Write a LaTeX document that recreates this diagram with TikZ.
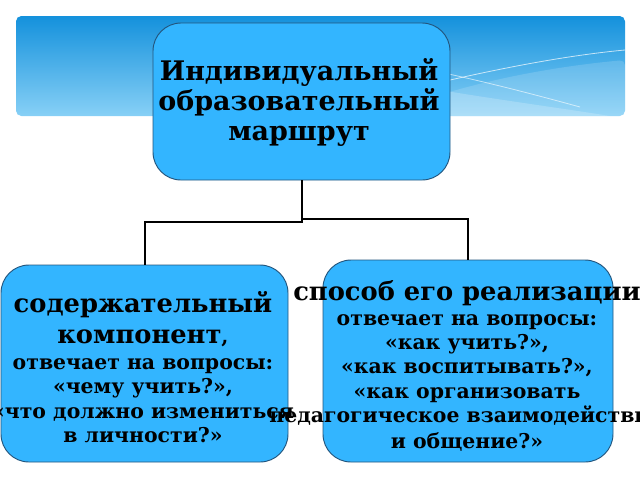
\documentclass[tikz,border=0pt]{standalone}
\usepackage{fontspec}
\setmainfont{DejaVu Serif}
\usetikzlibrary{positioning}
\definecolor{boxblue}{RGB}{51,181,255}
\definecolor{boxline}{RGB}{35,85,125}
\definecolor{bantop}{RGB}{20,145,220}
\definecolor{banbot}{RGB}{135,208,246}
\tikzset{
  blk/.style={draw=boxline, fill=boxblue, rounded corners=21pt, line width=0.7pt},
  txt/.style={align=center, inner sep=0pt, font=\bfseries\fontsize{15.3}{18.2}\selectfont},
  link/.style={line width=1.5pt}
}
\newcommand{\headsz}{\fontsize{19.3}{18.2}\selectfont}

\begin{document}
\begin{tikzpicture}[x=0.75pt,y=-0.75pt]
\useasboundingbox (0,0) rectangle (640,480);
%banner
\shade[top color=bantop, bottom color=banbot, rounded corners=4pt] (16,16) rectangle (625,116);
\fill[white, opacity=0.15, rounded corners=4pt] (380,116) .. controls (470,80) and (560,66) .. (625,60) -- (625,116) -- cycle;
\fill[white, opacity=0.2] (440,90) .. controls (500,100) and (560,108) .. (610,116) -- (440,116) -- cycle;
\draw[white, opacity=0.7, line width=0.6pt] (400,92) .. controls (480,72) and (560,56) .. (625,50);
\draw[white, opacity=0.6, line width=0.6pt] (420,68) .. controls (480,80) and (540,96) .. (580,107);

\node[blk, minimum width=222.75pt, minimum height=117.75pt] (route) at (301.5,101.5) {};
\node[blk, minimum width=215.25pt, minimum height=147.75pt] (content) at (144.5,363.5) {};
\node[blk, minimum width=217.5pt, minimum height=151.5pt] (method) at (468,361) {};

\node[txt, font=\bfseries\fontsize{20.2}{22.5}\selectfont] (routetxt) at (299,102.5) {Индивидуальный\\образовательный\\маршрут};

\node[txt] (contenttxt) at (143,367) {{\headsz содержательный}\\[5pt]{\headsz компонент},\\[1.5pt]
отвечает на вопросы:\\«чему учить?»,\\«что должно измениться\\в личности?»};

\node[txt] (methodtxt) at (467,366) {{\headsz способ его реализации}\\[0.5pt]
отвечает на вопросы:\\«как учить?»,\\«как воспитывать?»,\\«как организовать\\педагогическое взаимодействия\\[1.5pt]и общение?»};

\draw[link] (route.south) -- ++(0,42) -| (content.north);
\draw[link] (route.south) ++(0,39) -| (method.north);
\end{tikzpicture}
\end{document}
